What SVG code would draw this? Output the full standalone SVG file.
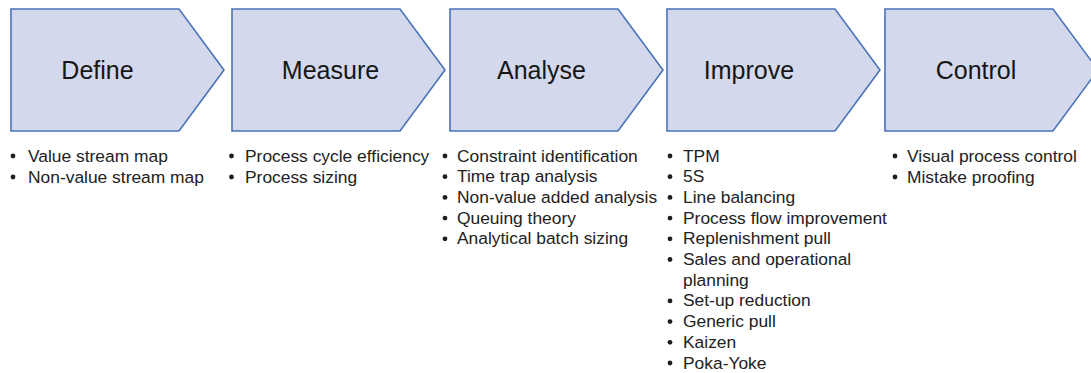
<svg xmlns="http://www.w3.org/2000/svg" width="1091" height="373" viewBox="0 0 1091 373">
  <style>
    .stage { fill: #d3d8ec; stroke: #4a72b8; stroke-width: 1.6; stroke-linejoin: miter; }
    .title { font-family: "Liberation Sans", Arial, sans-serif; font-size: 25px; fill: #161616; text-anchor: middle; }
    .item { font-family: "Liberation Sans", Arial, sans-serif; font-size: 17.4px; fill: #222222; }
    .dot { fill: #1e1e1e; }
  </style>
  <defs>
    <!-- chevron stage: 168px body, 45px point -->
    <polygon id="chevron" points="0,9 168,9 213,70 168,131 0,131 0,9"/>
    <circle id="bullet" r="2.4"/>
  </defs>

  <g id="connectors"></g>

  <g id="define">
    <use href="#chevron" x="11" class="stage"/>
    <text class="title" x="97.5" y="78.5">Define</text>
    <use href="#bullet" class="dot" x="13" y="156"/>
    <use href="#bullet" class="dot" x="13" y="177"/>
    <text class="item" x="28" y="161.5">Value stream map</text>
    <text class="item" x="28" y="182.5">Non-value stream map</text>
  </g>

  <g id="measure">
    <use href="#chevron" x="232" class="stage"/>
    <text class="title" x="330.5" y="78.5">Measure</text>
    <use href="#bullet" class="dot" x="231.5" y="156"/>
    <use href="#bullet" class="dot" x="231.5" y="177"/>
    <text class="item" x="245" y="161.5">Process cycle efficiency</text>
    <text class="item" x="245" y="182.5">Process sizing</text>
  </g>

  <g id="analyse">
    <use href="#chevron" x="450" class="stage"/>
    <text class="title" x="541.5" y="78.5">Analyse</text>
    <g class="dot">
      <use href="#bullet" x="445" y="156"/>
      <use href="#bullet" x="445" y="176.7"/>
      <use href="#bullet" x="445" y="197.4"/>
      <use href="#bullet" x="445" y="218.1"/>
      <use href="#bullet" x="445" y="238.8"/>
    </g>
    <text class="item" x="457" y="161.5">Constraint identification</text>
    <text class="item" x="457" y="182.2">Time trap analysis</text>
    <text class="item" x="457" y="202.9">Non-value added analysis</text>
    <text class="item" x="457" y="223.6">Queuing theory</text>
    <text class="item" x="457" y="244.3">Analytical batch sizing</text>
  </g>

  <g id="improve">
    <use href="#chevron" x="667" class="stage"/>
    <text class="title" x="749" y="78.5">Improve</text>
    <g class="dot">
      <use href="#bullet" x="670" y="156"/>
      <use href="#bullet" x="670" y="176.7"/>
      <use href="#bullet" x="670" y="197.4"/>
      <use href="#bullet" x="670" y="218.1"/>
      <use href="#bullet" x="670" y="238.8"/>
      <use href="#bullet" x="670" y="259.5"/>
      <use href="#bullet" x="670" y="300.9"/>
      <use href="#bullet" x="670" y="321.6"/>
      <use href="#bullet" x="670" y="342.3"/>
      <use href="#bullet" x="670" y="363"/>
    </g>
    <text class="item" x="683" y="161.5">TPM</text>
    <text class="item" x="683" y="182.2">5S</text>
    <text class="item" x="683" y="202.9">Line balancing</text>
    <text class="item" x="683" y="223.6">Process flow improvement</text>
    <text class="item" x="683" y="244.3">Replenishment pull</text>
    <text class="item" x="683" y="265">Sales and operational</text>
    <text class="item" x="683" y="285.7">planning</text>
    <text class="item" x="683" y="306.4">Set-up reduction</text>
    <text class="item" x="683" y="327.1">Generic pull</text>
    <text class="item" x="683" y="347.8">Kaizen</text>
    <text class="item" x="683" y="368.5">Poka-Yoke</text>
  </g>

  <g id="control">
    <use href="#chevron" x="885" class="stage"/>
    <text class="title" x="976" y="78.5">Control</text>
    <use href="#bullet" class="dot" x="895" y="156"/>
    <use href="#bullet" class="dot" x="895" y="177"/>
    <text class="item" x="907" y="161.5">Visual process control</text>
    <text class="item" x="907" y="182.5">Mistake proofing</text>
  </g>
</svg>
